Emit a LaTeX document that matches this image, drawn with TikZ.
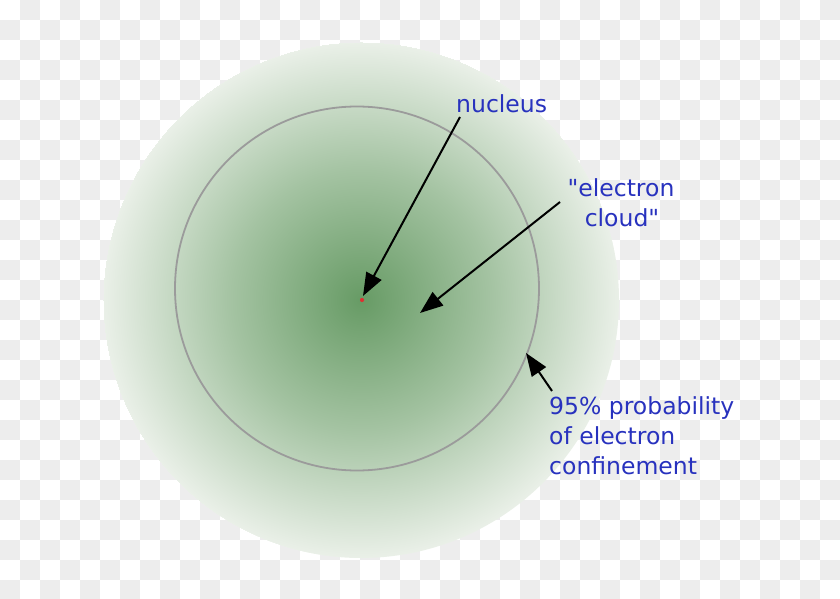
\documentclass[tikz,border=0pt]{standalone}
\usepackage{fontspec}
\setmainfont{DejaVu Sans}[Ligatures=TeXOff]
\usetikzlibrary{arrows.meta}
\definecolor{labelblue}{RGB}{40,50,190}
\definecolor{checkgrey}{RGB}{237,237,237}
\definecolor{cloudA}{RGB}{103,155,101}
\definecolor{cloudB}{RGB}{164,195,162}
\definecolor{cloudD}{RGB}{234,240,232}
\definecolor{ringgrey}{RGB}{155,155,155}
\definecolor{dotred}{RGB}{220,50,50}
\pgfdeclareradialshading{cloudshade}{\pgfpoint{0bp}{0bp}}{color(0bp)=(cloudA); color(130bp)=(cloudB); color(258bp)=(cloudD)}
\begin{document}
\begin{tikzpicture}[x=1bp,y=-1bp,
  labeltext/.style={text=labelblue, inner sep=0pt, font=\fontsize{23.5bp}{30bp}\selectfont},
  pointer/.style={draw=black, line width=2bp, -{Triangle[length=23bp,width=17bp]}},
  ringline/.style={draw=ringgrey, line width=1.8bp},
  checker/.style={fill=checkgrey},
  nucleusdot/.style={circle, fill=dotred, inner sep=0pt, minimum size=4.2bp}]
\useasboundingbox (0,0) rectangle (840,599);
\clip (0,0) rectangle (840,599);
% transparency checkerboard
\foreach \i in {0,...,41} {
  \foreach \j in {0,...,29} {
    \pgfmathtruncatemacro\odd{mod(\i+\j,2)}
    \ifnum\odd=1
      \fill[checker] (\i*20,\j*20) rectangle ++(20,20);
    \fi
  }
}
% electron cloud
\begin{scope}
  \clip (361,300) circle [radius=258bp];
  \node[inner sep=0pt] (cloud) at (361,300) {\pgfuseshading{cloudshade}};
\end{scope}
% 95% ring
\draw[ringline] (357,288.5) circle [radius=182bp];
% nucleus
\node[nucleusdot] (dot) at (362,300) {};
% labels
\node[labeltext, anchor=base west] (nuc) at (456,113) {nucleus};
\node[labeltext, anchor=base] (cl1) at (621,197) {"electron};
\node[labeltext, anchor=base] (cl2) at (622,227) {cloud"};
\node[labeltext, anchor=base west] (pr1) at (549,414) {95\% probability};
\node[labeltext, anchor=base west] (pr2) at (549,444) {of electron};
\node[labeltext, anchor=base west] (pr3) at (549,474) {confinement};
% arrow ends
\coordinate (nucTail) at (460,117);
\coordinate (nucTip) at (363,296);
\coordinate (clTail) at (560,202);
\coordinate (clTip) at (420,313);
\coordinate (prTail) at (552,391);
\coordinate (prTip) at (526,353);
\draw[pointer] (nucTail) -- (nucTip);
\draw[pointer] (clTail) -- (clTip);
\draw[pointer] (prTail) -- (prTip);
\end{tikzpicture}
\end{document}
